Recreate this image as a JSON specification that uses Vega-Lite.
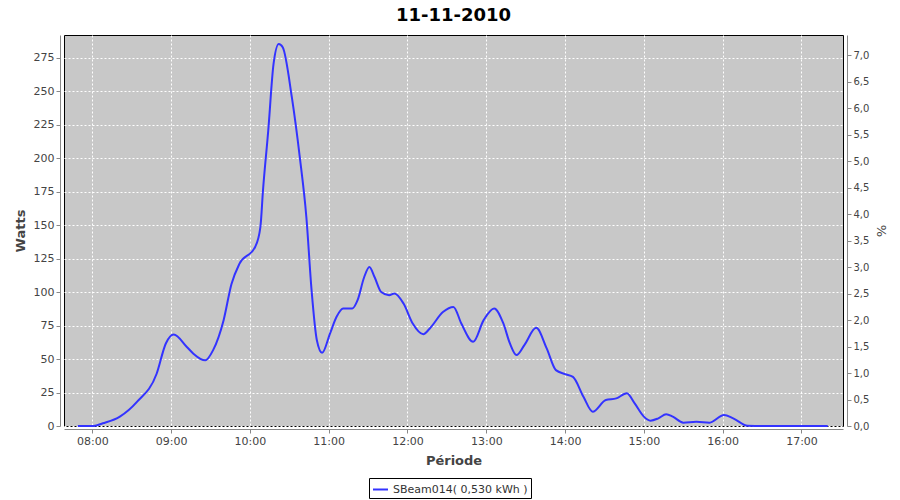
{
  "$schema": "https://vega.github.io/schema/vega-lite/v6.json",
  "autosize": "none",
  "width": 779,
  "height": 391,
  "padding": {"left": 64, "top": 35, "right": 57, "bottom": 74},
  "background": "white",
  "title": {"text": "11-11-2010", "fontSize": 18, "font": "DejaVu Sans", "fontWeight": "bold", "color": "#000000", "anchor": "middle", "offset": 10},
  "config": {
    "font": "DejaVu Sans",
    "view": {"fill": "#c8c8c8", "stroke": "#000000", "strokeWidth": 1},
    "axis": {
      "domainColor": "#888888", "tickColor": "#888888", "tickSize": 4,
      "labelFont": "DejaVu Sans", "labelFontSize": 11, "labelColor": "#444444",
      "titleFont": "DejaVu Sans", "titleFontSize": 13, "titleFontWeight": "bold", "titleColor": "#444444",
      "gridColor": "#ffffff", "gridDash": [2, 2], "gridOpacity": 1, "gridWidth": 1
    },
    "legend": {"labelFont": "DejaVu Sans", "labelFontSize": 11, "labelColor": "#333333"}
  },
  "layer": [
    {
      "data": {"values": [
        {"t": "2010-11-11T07:49:00", "w": 0},
        {"t": "2010-11-11T08:01:00", "w": 0},
        {"t": "2010-11-11T08:08:00", "w": 2},
        {"t": "2010-11-11T08:21:00", "w": 7},
        {"t": "2010-11-11T08:34:00", "w": 18},
        {"t": "2010-11-11T08:49:00", "w": 39},
        {"t": "2010-11-11T08:56:00", "w": 61.6},
        {"t": "2010-11-11T09:02:00", "w": 68.3},
        {"t": "2010-11-11T09:12:00", "w": 59},
        {"t": "2010-11-11T09:17:00", "w": 54},
        {"t": "2010-11-11T09:26:00", "w": 49},
        {"t": "2010-11-11T09:32:00", "w": 56.6},
        {"t": "2010-11-11T09:40:00", "w": 79},
        {"t": "2010-11-11T09:46:00", "w": 106},
        {"t": "2010-11-11T09:52:00", "w": 121},
        {"t": "2010-11-11T10:04:00", "w": 133.6},
        {"t": "2010-11-11T10:08:00", "w": 148.5},
        {"t": "2010-11-11T10:10:00", "w": 176},
        {"t": "2010-11-11T10:14:00", "w": 220.6},
        {"t": "2010-11-11T10:18:00", "w": 270},
        {"t": "2010-11-11T10:22:00", "w": 285},
        {"t": "2010-11-11T10:25:00", "w": 282.6},
        {"t": "2010-11-11T10:32:00", "w": 245},
        {"t": "2010-11-11T10:38:00", "w": 200.7},
        {"t": "2010-11-11T10:43:00", "w": 156},
        {"t": "2010-11-11T10:47:00", "w": 101},
        {"t": "2010-11-11T10:51:00", "w": 64},
        {"t": "2010-11-11T10:55:00", "w": 54.6},
        {"t": "2010-11-11T11:01:00", "w": 69},
        {"t": "2010-11-11T11:06:00", "w": 81.5},
        {"t": "2010-11-11T11:11:00", "w": 87.7},
        {"t": "2010-11-11T11:18:00", "w": 87.7},
        {"t": "2010-11-11T11:22:00", "w": 93.9},
        {"t": "2010-11-11T11:27:00", "w": 111},
        {"t": "2010-11-11T11:31:00", "w": 118.7},
        {"t": "2010-11-11T11:35:00", "w": 111},
        {"t": "2010-11-11T11:40:00", "w": 100},
        {"t": "2010-11-11T11:46:00", "w": 97.6},
        {"t": "2010-11-11T11:50:00", "w": 98.9},
        {"t": "2010-11-11T11:57:00", "w": 91.4},
        {"t": "2010-11-11T12:04:00", "w": 76.5},
        {"t": "2010-11-11T12:12:00", "w": 68.5},
        {"t": "2010-11-11T12:17:00", "w": 72.8},
        {"t": "2010-11-11T12:27:00", "w": 85},
        {"t": "2010-11-11T12:35:00", "w": 88.9},
        {"t": "2010-11-11T12:41:00", "w": 76.5},
        {"t": "2010-11-11T12:50:00", "w": 62.8},
        {"t": "2010-11-11T12:58:00", "w": 79},
        {"t": "2010-11-11T13:06:00", "w": 87.7},
        {"t": "2010-11-11T13:13:00", "w": 76.5},
        {"t": "2010-11-11T13:18:00", "w": 61.6},
        {"t": "2010-11-11T13:23:00", "w": 52.9},
        {"t": "2010-11-11T13:29:00", "w": 60.4},
        {"t": "2010-11-11T13:38:00", "w": 73.3},
        {"t": "2010-11-11T13:46:00", "w": 57.9},
        {"t": "2010-11-11T13:53:00", "w": 41.7},
        {"t": "2010-11-11T14:00:00", "w": 38.7},
        {"t": "2010-11-11T14:06:00", "w": 36.7},
        {"t": "2010-11-11T14:14:00", "w": 21.8},
        {"t": "2010-11-11T14:21:00", "w": 10.7},
        {"t": "2010-11-11T14:31:00", "w": 19.4},
        {"t": "2010-11-11T14:39:00", "w": 20.6},
        {"t": "2010-11-11T14:47:00", "w": 24.4},
        {"t": "2010-11-11T14:53:00", "w": 16.9},
        {"t": "2010-11-11T15:00:00", "w": 7},
        {"t": "2010-11-11T15:05:00", "w": 4},
        {"t": "2010-11-11T15:11:00", "w": 5.7},
        {"t": "2010-11-11T15:17:00", "w": 8.7},
        {"t": "2010-11-11T15:22:00", "w": 7},
        {"t": "2010-11-11T15:30:00", "w": 2.5},
        {"t": "2010-11-11T15:40:00", "w": 3.2},
        {"t": "2010-11-11T15:50:00", "w": 2.5},
        {"t": "2010-11-11T16:01:00", "w": 8.2},
        {"t": "2010-11-11T16:08:00", "w": 5.7},
        {"t": "2010-11-11T16:19:00", "w": 0.2},
        {"t": "2010-11-11T16:30:00", "w": 0},
        {"t": "2010-11-11T17:20:00", "w": 0}
      ]},
      "mark": {"type": "line", "interpolate": "monotone", "strokeWidth": 2},
      "encoding": {
        "x": {
          "field": "t", "type": "temporal",
          "scale": {"domain": [
            {"year": 2010, "month": 11, "date": 11, "hours": 7, "minutes": 38, "seconds": 28},
            {"year": 2010, "month": 11, "date": 11, "hours": 17, "minutes": 31, "seconds": 37}
          ]},
          "axis": {"title": "Période", "format": "%H:%M",
            "values": [
              {"year": 2010, "month": 11, "date": 11, "hours": 8},
              {"year": 2010, "month": 11, "date": 11, "hours": 9},
              {"year": 2010, "month": 11, "date": 11, "hours": 10},
              {"year": 2010, "month": 11, "date": 11, "hours": 11},
              {"year": 2010, "month": 11, "date": 11, "hours": 12},
              {"year": 2010, "month": 11, "date": 11, "hours": 13},
              {"year": 2010, "month": 11, "date": 11, "hours": 14},
              {"year": 2010, "month": 11, "date": 11, "hours": 15},
              {"year": 2010, "month": 11, "date": 11, "hours": 16},
              {"year": 2010, "month": 11, "date": 11, "hours": 17}
            ],
            "offset": 3, "labelPadding": 2, "titlePadding": 8, "grid": true}
        },
        "y": {
          "field": "w", "type": "quantitative",
          "scale": {"domain": [0, 291.8], "nice": false},
          "axis": {"title": "Watts", "values": [0, 25, 50, 75, 100, 125, 150, 175, 200, 225, 250, 275], "offset": 4, "labelPadding": 2, "titlePadding": 6, "grid": true}
        },
        "color": {
          "datum": "SBeam014( 0,530 kWh )",
          "scale": {"range": ["#3333ff"]},
          "legend": {"title": null, "orient": "none", "legendX": 305, "legendY": 443, "strokeColor": "#000000", "padding": 3, "symbolType": "stroke", "symbolStrokeWidth": 2, "symbolSize": 225}
        }
      }
    },
    {
      "data": {"values": [{"pct": 0}, {"pct": 7}]},
      "mark": {"type": "point", "opacity": 0},
      "encoding": {
        "y": {
          "field": "pct", "type": "quantitative",
          "scale": {"domain": [0, 7.38], "nice": false},
          "axis": {"title": "%", "orient": "right", "values": [0, 0.5, 1, 1.5, 2, 2.5, 3, 3.5, 4, 4.5, 5, 5.5, 6, 6.5, 7], "labelExpr": "replace(format(datum.value, '.1f'), '.', ',')", "offset": 4, "labelPadding": 2, "titlePadding": 5, "grid": false, "labelFontSize": 10, "titleFontWeight": "normal"}
        }
      }
    }
  ],
  "resolve": {"scale": {"y": "independent"}}
}
